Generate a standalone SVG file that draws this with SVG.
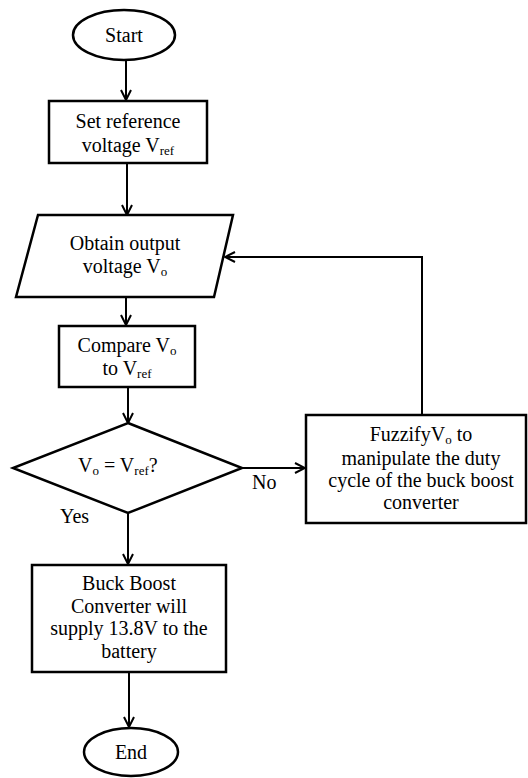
<svg xmlns="http://www.w3.org/2000/svg" width="528" height="778" viewBox="0 0 528 778">
<defs>
<style>
.shape{fill:#fff;stroke:#000;stroke-width:2.5}
.conn{fill:none;stroke:#000;stroke-width:2}
.t{font-family:"Liberation Serif","Times New Roman",serif;font-size:20px;fill:#000;text-anchor:middle}
.ts{font-family:"Liberation Serif","Times New Roman",serif;font-size:20px;fill:#000}
.sub{font-size:13px}
</style>
<marker id="arr" viewBox="0 0 12 12" refX="11" refY="6" markerWidth="12" markerHeight="12" markerUnits="userSpaceOnUse" orient="auto">
<path d="M1,1 L11,6 L1,11" fill="none" stroke="#000" stroke-width="2"/>
</marker>
</defs>
<rect width="528" height="778" fill="#fff"/>
<g id="connectors">
<path class="conn" d="M126,60 V100" marker-end="url(#arr)"/>
<path class="conn" d="M127,163 V215" marker-end="url(#arr)"/>
<path class="conn" d="M126,297 V325" marker-end="url(#arr)"/>
<path class="conn" d="M128,387 V423" marker-end="url(#arr)"/>
<path class="conn" d="M242,468 H305" marker-end="url(#arr)"/>
<path class="conn" d="M422,415 V257 H225" marker-end="url(#arr)"/>
<path class="conn" d="M128,513 V564" marker-end="url(#arr)"/>
<path class="conn" d="M129,672 V727" marker-end="url(#arr)"/>
<text class="ts" x="252" y="489" font-size="18">No</text>
<text class="ts" x="60" y="523" font-size="18">Yes</text>
</g>
<g id="start">
<ellipse class="shape" cx="124" cy="35" rx="51" ry="25"/>
<text class="t" x="124" y="42" font-size="19">Start</text>
</g>
<g id="set-ref">
<rect class="shape" x="49" y="101" width="158" height="62"/>
<text class="t" x="128" y="128">Set reference</text>
<text class="t" x="128" y="152">voltage V<tspan class="sub" dy="3">ref</tspan></text>
</g>
<g id="obtain">
<polygon class="shape" points="38,215 233,215 214,297 16,297"/>
<text class="t" x="125" y="250">Obtain output</text>
<text class="t" x="125" y="273">voltage V<tspan class="sub" dy="3">o</tspan></text>
</g>
<g id="compare">
<rect class="shape" x="59" y="326" width="136" height="61"/>
<text class="t" x="127" y="352">Compare V<tspan class="sub" dy="3">o</tspan></text>
<text class="t" x="127" y="375">to V<tspan class="sub" dy="3">ref</tspan></text>
</g>
<g id="decision">
<polygon class="shape" points="128,423 242,468 128,513 13,468"/>
<text class="ts" x="78" y="472">V<tspan class="sub" dy="3">o</tspan><tspan dy="-3"> = V</tspan><tspan class="sub" dy="3">ref</tspan><tspan dy="-3">?</tspan></text>
</g>
<g id="fuzzify">
<rect class="shape" x="306" y="415" width="220" height="108"/>
<text class="t" x="421" y="441">FuzzifyV<tspan class="sub" dy="3">o</tspan><tspan dy="-3"> to</tspan></text>
<text class="t" x="421" y="465">manipulate the duty</text>
<text class="t" x="421" y="487">cycle of the buck boost</text>
<text class="t" x="421" y="509">converter</text>
</g>
<g id="buck">
<rect class="shape" x="32" y="565" width="194" height="107"/>
<text class="t" x="129" y="590">Buck Boost</text>
<text class="t" x="129" y="613">Converter will</text>
<text class="t" x="129" y="635">supply 13.8V to the</text>
<text class="t" x="129" y="658">battery</text>
</g>
<g id="end">
<ellipse class="shape" cx="131" cy="752" rx="47" ry="24"/>
<text class="t" x="131" y="759" font-size="19">End</text>
</g>
</svg>
